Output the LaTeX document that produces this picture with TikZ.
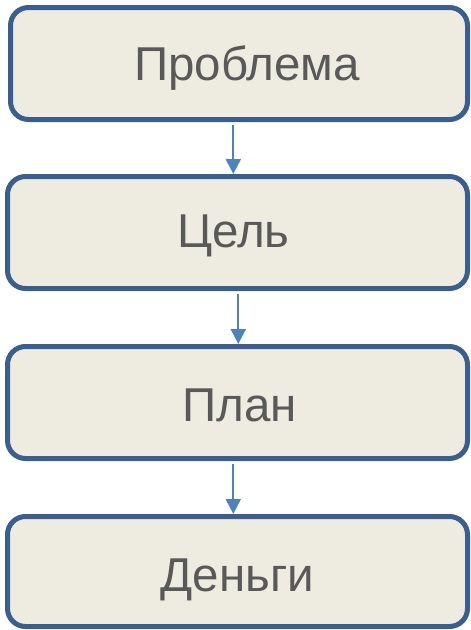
\documentclass[tikz,border=0pt]{standalone}
\usepackage{fontspec}
\setmainfont{Liberation Sans}
\usetikzlibrary{arrows.meta}
\definecolor{boxline}{HTML}{3A5F8E}
\definecolor{boxfill}{HTML}{EEECE1}
\definecolor{txt}{HTML}{595959}
\definecolor{arrowc}{HTML}{4F81BD}
\tikzset{
  stage/.style={draw=boxline, fill=boxfill, line width=5pt, rounded corners=18pt,
    minimum height=112pt, inner sep=0pt},
  lbl/.style={anchor=base, inner sep=0pt, text=txt, font=\fontsize{47.5}{56}\selectfont},
  link/.style={draw=arrowc, line width=2pt, -{Triangle[width=15pt,length=15pt]}, shorten <=2.5pt}
}
\begin{document}
\begin{tikzpicture}[x=1pt,y=-1pt]
\useasboundingbox (0,0) rectangle (471,630);
\node[stage, minimum width=457pt] (b1) at (239,63.5) {};
\node[stage, minimum width=460pt] (b2) at (237.5,232.5) {};
\node[stage, minimum width=460pt] (b3) at (237.5,402.5) {};
\node[stage, minimum width=460pt, minimum height=110pt] (b4) at (237.5,571.5) {};
\node[lbl] (t1) at (247,80) {Проблема};
\node[lbl] (t2) at (233.3,247.7) {Цель};
\node[lbl] (t3) at (239.5,421) {План};
\node[lbl] (t4) at (237.5,591) {Деньги};
\draw[link] ([xshift=-5.7pt]b1.south) -- ([xshift=-4.2pt]b2.north);
\draw[link] ([xshift=0.8pt]b2.south) -- ([xshift=0.8pt]b3.north);
\draw[link] ([xshift=-4.2pt]b3.south) -- ([xshift=-4.2pt]b4.north);
\end{tikzpicture}
\end{document}
